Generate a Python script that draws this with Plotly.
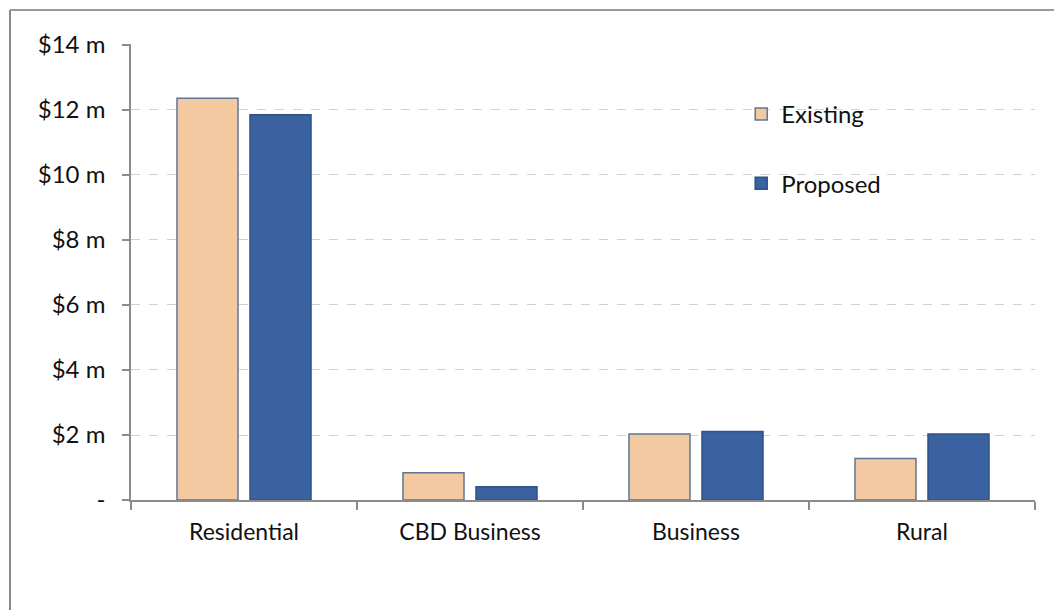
import plotly.graph_objects as go

# Revenue by rating category, in $ millions
categories = ["Residential", "CBD Business", "Business", "Rural"]
existing = [12.36, 0.84, 2.03, 1.28]
proposed = [11.85, 0.41, 2.11, 2.03]

y_tick_values = [0, 2, 4, 6, 8, 10, 12, 14]
y_tick_labels = ["-", "$2 m", "$4 m", "$6 m", "$8 m", "$10 m", "$12 m", "$14 m"]

FONT = "Lato, 'Open Sans', sans-serif"

fig = go.Figure()
fig.add_trace(go.Bar(
    name="Existing", x=categories, y=existing, legendgroup="a",
    marker=dict(color="#F3C9A1", line=dict(color="#5F7594", width=1.5)),
))
fig.add_trace(go.Bar(
    name="Proposed", x=categories, y=proposed, legendgroup="b",
    marker=dict(color="#3A62A0", line=dict(color="#2E5189", width=1.5)),
))

# outer chart frame (top and left edges)
fx = (10 - 131) / 904
fy = 1 + 34 / 456
fig.add_shape(type="line", xref="paper", yref="paper",
              x0=fx, y0=-0.3, x1=fx, y1=fy,
              line=dict(color="#8A8A8A", width=2))
fig.add_shape(type="line", xref="paper", yref="paper",
              x0=fx, y0=fy, x1=1.05, y1=fy,
              line=dict(color="#9A9A9A", width=2))

fig.update_layout(
    width=1054, height=610,
    margin=dict(l=131, r=19, t=44, b=110),
    paper_bgcolor="white", plot_bgcolor="white",
    barmode="group", bargap=0.354, bargroupgap=0.164,
    font=dict(family=FONT, color="#111111"),
    legend=dict(
        x=0.675, y=0.895, xanchor="left", yanchor="top",
        font=dict(size=24, family=FONT, color="#111111"),
        tracegroupgap=35, traceorder="grouped",
        bgcolor="rgba(0,0,0,0)",
    ),
    xaxis=dict(
        showline=True, linecolor="#8C8C8C", linewidth=1.5,
        ticks="outside", tickson="boundaries", ticklen=8,
        tickcolor="#8C8C8C", tickwidth=1.5,
        tickfont=dict(size=23, family=FONT, color="#111111"),
        ticklabelstandoff=11,
        showgrid=False,
    ),
    yaxis=dict(
        range=[0, 14.03], tickvals=y_tick_values, ticktext=y_tick_labels,
        showline=True, linecolor="#8C8C8C", linewidth=1.5,
        ticks="outside", ticklen=7, tickcolor="#8C8C8C", tickwidth=1.5,
        tickfont=dict(size=24, family=FONT, color="#111111"),
        ticklabelstandoff=12,
        showgrid=True, gridcolor="#C9D3E0", griddash="dash", gridwidth=1,
        zeroline=False,
    ),
)

fig.write_html("out.html")
